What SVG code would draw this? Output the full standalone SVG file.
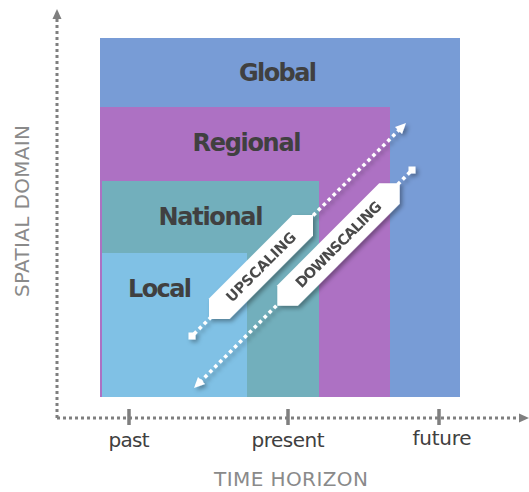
<svg xmlns="http://www.w3.org/2000/svg" width="529" height="492" viewBox="0 0 529 492">
<style>
.lbl{font-family:"DejaVu Sans","Liberation Sans",sans-serif;font-weight:bold;font-size:24px;fill:#404040;text-anchor:middle}
.tick{font-family:"DejaVu Sans","Liberation Sans",sans-serif;font-size:20px;fill:#404040;text-anchor:middle}
.axt{font-family:"DejaVu Sans","Liberation Sans",sans-serif;font-size:20px;fill:#8a8a8a;text-anchor:middle}
.ban{font-family:"DejaVu Sans","Liberation Sans",sans-serif;font-weight:bold;font-size:14.5px;fill:#4a4a4a;text-anchor:middle}
.axis{stroke:#7f7f7f;stroke-width:3;stroke-dasharray:3 3;fill:none}
.dot{stroke:#fff;stroke-width:3.5;stroke-dasharray:3.5 3.5;fill:none}
</style>
<defs>
<filter id="sh" x="-20%" y="-20%" width="140%" height="140%">
<feDropShadow dx="2.5" dy="2.5" stdDeviation="2" flood-color="#000" flood-opacity="0.35"/>
</filter>
</defs>
<g id="global"><rect x="100" y="38" width="360" height="359" fill="#789CD6"/><text class="lbl" x="278" y="81" textLength="78">Global</text></g>
<g id="regional"><rect x="100" y="107" width="290" height="290" fill="#AD71C3"/><text class="lbl" x="247" y="151" textLength="109">Regional</text></g>
<g id="national"><rect x="102" y="181" width="217" height="216" fill="#72AFBC"/><text class="lbl" x="211" y="225" textLength="105">National</text></g>
<g id="local"><rect x="102" y="253" width="145" height="144" fill="#80C1E5"/><text class="lbl" x="160" y="297" textLength="64">Local</text></g>
<g id="axes">
<path class="axis" d="M57,418 V18 M57,418 H520"/>
<polygon points="57,9 52.5,19 61.5,19" fill="#7f7f7f"/>
<polygon points="529,418 519,413.5 519,422.5" fill="#7f7f7f"/>
<path d="M129,409 V425 M288,409 V425 M439,409 V425" stroke="#7f7f7f" stroke-width="3.5"/>
<text class="tick" x="129" y="447" textLength="41">past</text>
<text class="tick" x="288" y="447" textLength="73">present</text>
<text class="tick" x="442" y="445" textLength="59">future</text>
<text class="axt" x="291" y="486" textLength="154">TIME HORIZON</text>
<text class="axt" transform="translate(29,211) rotate(-90)" textLength="172">SPATIAL DOMAIN</text>
</g>
<g id="connectors">
<g id="upscaling" filter="url(#sh)">
<path class="dot" d="M194,334 L399,130"/>
<rect x="188.5" y="332.5" width="7" height="7" fill="#fff"/>
<polygon points="406,123 402,134 395,127" fill="#fff"/>
<g transform="translate(261,267) rotate(-45)">
<polygon points="-73.5,0 -59,-14.5 59,-14.5 73.5,0 59,14.5 -59,14.5" fill="#fff"/>
<text class="ban" x="0" y="5" textLength="92">UPSCALING</text>
</g>
</g>
<g id="downscaling" filter="url(#sh)">
<path class="dot" d="M410,172 L201,381"/>
<rect x="408.5" y="166.5" width="7" height="7" fill="#fff"/>
<polygon points="194,388 205,384 198,377" fill="#fff"/>
<g transform="translate(338.5,244.5) rotate(-45)">
<polygon points="-86.5,0 -72,-14.5 72,-14.5 86.5,0 72,14.5 -72,14.5" fill="#fff"/>
<text class="ban" x="0" y="5" textLength="115">DOWNSCALING</text>
</g>
</g>
</g>
</svg>
